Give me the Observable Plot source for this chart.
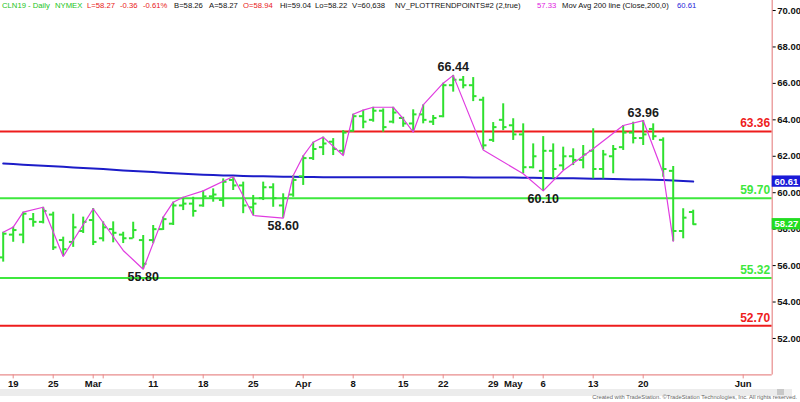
<!DOCTYPE html>
<html><head><meta charset="utf-8">
<script src="https://cdn.jsdelivr.net/npm/d3@7"></script>
<script src="https://cdn.jsdelivr.net/npm/@observablehq/plot@0.6"></script>
<style>
body{margin:0;background:#fff;font-family:"Liberation Sans",Arial,sans-serif;}
#wrap{position:relative;width:800px;height:402px;overflow:hidden;background:#fff;}
#chart{position:absolute;left:0;top:0;}
.hd{position:absolute;top:1px;font-size:7.7px;white-space:pre;line-height:9px;}
#scroll{position:absolute;left:0;top:389px;width:792px;height:7px;background:#ececec;}
#thumb{position:absolute;left:777px;top:389px;width:7px;height:6px;background:#c8c8c8;}
#credit{position:absolute;right:3px;top:394px;font-size:5.8px;color:#666;white-space:pre;}
</style></head>
<body><div id="wrap"><div id="chart"></div><div id="scroll"></div><div id="thumb"></div>
<div id="credit">Created with TradeStation. ©TradeStation Technologies, Inc. All rights reserved.</div></div>
<script>
// ---- data ----
const dates = ["Feb15","Feb19","Feb20","Feb21","Feb22","Feb25","Feb26","Feb27","Feb28","Mar1",
"Mar4","Mar5","Mar6","Mar7","Mar8","Mar11","Mar12","Mar13","Mar14","Mar15",
"Mar18","Mar19","Mar20","Mar21","Mar22","Mar25","Mar26","Mar27","Mar28","Mar29",
"Apr1","Apr2","Apr3","Apr4","Apr5","Apr8","Apr9","Apr10","Apr11","Apr12",
"Apr15","Apr16","Apr17","Apr18","Apr22","Apr23","Apr24","Apr25","Apr26","Apr29",
"Apr30","May1","May2","May3","May6","May7","May8","May9","May10","May13",
"May14","May15","May16","May17","May20","May21","May22","May23","May24","May28"];
const openV = [56.45,57.70,57.70,58.55,58.40,58.80,57.40,57.30,57.90,58.50,
57.50,58.00,57.70,57.50,57.40,57.40,58.00,58.30,59.30,59.40,
59.30,59.80,59.60,60.70,60.40,59.20,59.70,60.30,59.30,59.90,
60.90,61.90,62.50,62.80,62.30,63.40,64.20,64.00,64.50,63.90,
64.10,63.80,64.30,63.90,64.20,65.90,66.20,65.90,65.10,62.90,
64.00,63.70,63.20,61.40,61.20,62.30,61.50,62.00,61.80,62.30,
61.30,62.00,62.50,63.30,63.00,63.50,62.90,61.20,57.90,58.94];
const highV = [57.83,58.11,58.93,58.86,59.20,58.93,57.56,58.82,58.66,59.13,
58.40,58.40,57.83,58.38,57.65,58.20,58.66,59.48,59.75,59.75,
60.10,60.21,60.76,60.89,60.58,59.85,60.58,60.49,59.94,60.94,
62.02,62.77,63.05,62.97,63.41,64.31,64.53,64.69,64.60,64.69,
64.14,64.55,64.82,64.24,66.01,66.44,66.38,66.32,65.24,63.85,
64.88,64.06,63.78,62.68,63.08,62.68,62.50,62.41,62.59,63.51,
62.32,62.59,63.69,63.87,63.96,63.78,63.01,61.44,59.12,59.04];
const lowV = [56.19,57.28,57.20,58.11,58.29,56.83,56.50,57.00,57.76,57.10,
57.30,57.25,57.21,57.47,55.80,57.20,57.93,58.20,59.02,58.66,
59.20,59.48,59.20,60.12,58.85,58.75,59.57,59.20,58.60,59.75,
60.40,61.77,62.04,62.04,62.04,63.32,63.51,63.87,63.32,63.78,
63.59,63.32,63.78,63.69,64.11,65.52,65.70,65.00,62.35,62.76,
63.41,62.87,61.04,61.31,60.10,60.76,61.22,61.49,61.31,60.76,
60.76,61.04,62.32,62.68,62.59,62.87,60.85,57.33,57.47,58.22];
const closeV = [57.75,57.95,58.85,58.40,59.00,57.00,56.90,58.10,58.40,57.30,
58.10,57.80,57.50,57.95,56.10,58.00,58.55,59.30,59.40,59.00,
59.80,59.90,60.60,60.40,59.30,59.40,60.30,59.70,59.70,60.70,
61.90,62.40,62.70,62.40,63.30,64.20,63.90,64.50,63.60,64.40,
63.80,64.30,64.00,64.10,65.90,66.20,65.90,65.30,62.60,63.60,
63.60,63.20,61.40,62.00,62.30,61.30,62.00,61.80,62.10,61.30,
62.10,62.40,63.30,63.00,63.20,63.10,61.30,57.90,58.63,58.27];
const ma200 = [61.60,61.57,61.54,61.51,61.48,61.45,61.42,61.39,61.36,61.33,
61.30,61.26,61.22,61.19,61.16,61.13,61.10,61.07,61.04,61.01,
60.99,60.97,60.95,60.94,60.92,60.91,60.90,60.89,60.88,60.87,
60.86,60.86,60.85,60.85,60.85,60.85,60.85,60.85,60.85,60.85,
60.85,60.85,60.85,60.85,60.85,60.85,60.85,60.84,60.84,60.84,
60.83,60.83,60.82,60.82,60.81,60.80,60.80,60.79,60.78,60.77,
60.76,60.75,60.74,60.73,60.72,60.71,60.70,60.67,60.64,60.61];
const pivotBar = [0,1,2,4,6,9,12,14,16,17,18,20,23,25,28,29,30,31,32,34,35,36,37,39,40,41,42,44,45,48,52,54,56,59,62,64,66,67];
const pivotVal = [57.83,58.11,58.93,59.20,56.50,59.12,56.83,55.80,58.66,59.48,59.75,60.10,60.89,58.75,58.60,60.94,62.02,62.77,63.05,62.04,64.31,64.53,64.69,64.69,64.06,63.32,64.82,66.01,66.44,62.35,61.04,60.10,61.22,62.41,63.69,63.96,61.07,57.33];
const swingBar = [14,28,45,54,64];
const swingSide = ["below","below","above","below","above"];
const levels = [63.36,59.70,55.32,52.70];
const levelKind = ["resistance","support","support","resistance"];
const yTicks = [52,54,56,58,60,62,64,66,68,70];
const xTickBar = [1,5,9,10,15,20,25,30,35,40,44,49,51,54,59,64,74];
const xTickLabels = ["19","25","Mar","","11","18","25","Apr","8","15","22","29","May","6","13","20","Jun"];
const header = [
  ["CLN19 - Daily","g"],["NYMEX","g"],["L=58.27","r"],["-0.36","r"],["-0.61%","r"],
  ["B=58.26","k"],["A=58.27","k"],["O=58.94","r"],["Hi=59.04","k"],["Lo=58.22","k"],
  ["V=60,638","k"],["NV_PLOTTRENDPOINTS#2 (2,true)","k"],["57.33","m"],
  ["Mov Avg 200 line (Close,200,0)","k"],["60.61","b"]];

// ---- build ----
const GREEN = "#2fe02f", LGREEN = "#3de83d", RED = "#ee1c1c", PINK = "#e88c8c", BLUE = "#1c1cc8", MAG = "#e03ce0";
const bars = dates.map((d,i)=>({i, o:openV[i], h:highV[i], l:lowV[i], c:closeV[i]}));
const ma = ma200.map((v,i)=>({i, v}));
const piv = pivotBar.map((b,k)=>({i:b, v:pivotVal[k]}));
const swings = swingBar.map((b,k)=>({i:b, v: swingSide[k]==="below" ? lowV[b] : highV[b], side:swingSide[k]}));
const lv = levels.map((v,k)=>({v, color: levelKind[k]==="resistance" ? RED : LGREEN}));
const labelMap = new Map(xTickBar.map((b,k)=>[b, xTickLabels[k]]));
const n = dates.length;
const lastBoxes = [{v: ma200[n-1], fill:"#1a1ad8"}, {v: closeV[n-1], fill:"#22dd22"}];
const xMin = -0.27, xMax = 76.9, yMin = 50, yMax = 70.55;
const boxW = 2.83, boxH = 0.31;
const swingStyle = {x: "i", y: "v", text: d=>d.v.toFixed(2), fill: "#1a1a1a", fontSize: 12.5, fontWeight: "bold"};

const chart = Plot.plot({
  width: 800, height: 402,
  marginLeft: 0, marginRight: 28.3, marginTop: 0, marginBottom: 27.6,
  x: {domain: [xMin, xMax]},
  y: {domain: [yMin, yMax]},
  style: {fontFamily: "Liberation Sans, Arial, sans-serif", background: "transparent", overflow: "visible"},
  marks: [
    Plot.ruleY(lv, {y: "v", stroke: "color", strokeWidth: 2}),
    Plot.text(lv, {x: xMax, y: "v", text: d=>d.v.toFixed(2), fill: "color", textAnchor: "end", dx: -2, dy: -8, fontSize: 12, fontWeight: "bold"}),
    Plot.line(ma, {x: "i", y: "v", stroke: BLUE, strokeWidth: 2}),
    Plot.ruleX(bars, {x: "i", y1: "l", y2: "h", stroke: GREEN, strokeWidth: 2}),
    Plot.ruleY(bars, {y: "o", x1: d=>d.i-0.38, x2: "i", stroke: GREEN, strokeWidth: 2}),
    Plot.ruleY(bars, {y: "c", x1: "i", x2: d=>d.i+0.38, stroke: GREEN, strokeWidth: 2}),
    Plot.line(piv, {x: "i", y: "v", stroke: MAG, strokeWidth: 1.2}),
    Plot.text(swings.filter(s=>s.side==="below"), {...swingStyle, dy: 8}),
    Plot.text(swings.filter(s=>s.side==="above"), {...swingStyle, dy: -8}),
    Plot.ruleY([yMin], {stroke: PINK, strokeWidth: 1.2}),
    Plot.ruleX([xMax], {stroke: PINK, strokeWidth: 1.2}),
    Plot.axisY(yTicks, {anchor: "right", tickSize: 3, tickPadding: 2, tickFormat: d=>d.toFixed(2), fontSize: 9.5, fontWeight: "bold", fill: "#111", label: null}),
    Plot.axisX(xTickBar, {anchor: "bottom", tickSize: 4, tickPadding: 1, stroke: PINK, tickFormat: d=>labelMap.get(d), fontSize: 9.5, fontWeight: "bold", fill: "#111", label: null}),
    Plot.rect(lastBoxes, {x1: xMax, x2: xMax + boxW, y1: d=>d.v - boxH, y2: d=>d.v + boxH, fill: "fill"}),
    Plot.text(lastBoxes, {x: xMax + boxW/2, y: "v", text: d=>d.v.toFixed(2), fill: "white", fontSize: 9.5, fontWeight: "bold"})
  ]
});
document.getElementById("chart").appendChild(chart);

// header
const colors = {g:"#22c422", r:"#e82020", k:"#111", m:"#e020e0", b:"#2424d8"};
const hx = [2,55,87,120,143,174,209,243,280,315,352,395,537,562,677];
header.forEach(([t,c],k)=>{
  const s = document.createElement("div");
  s.className = "hd"; s.textContent = t; s.style.left = hx[k] + "px"; s.style.color = colors[c];
  document.getElementById("wrap").appendChild(s);
});
</script></body></html>
